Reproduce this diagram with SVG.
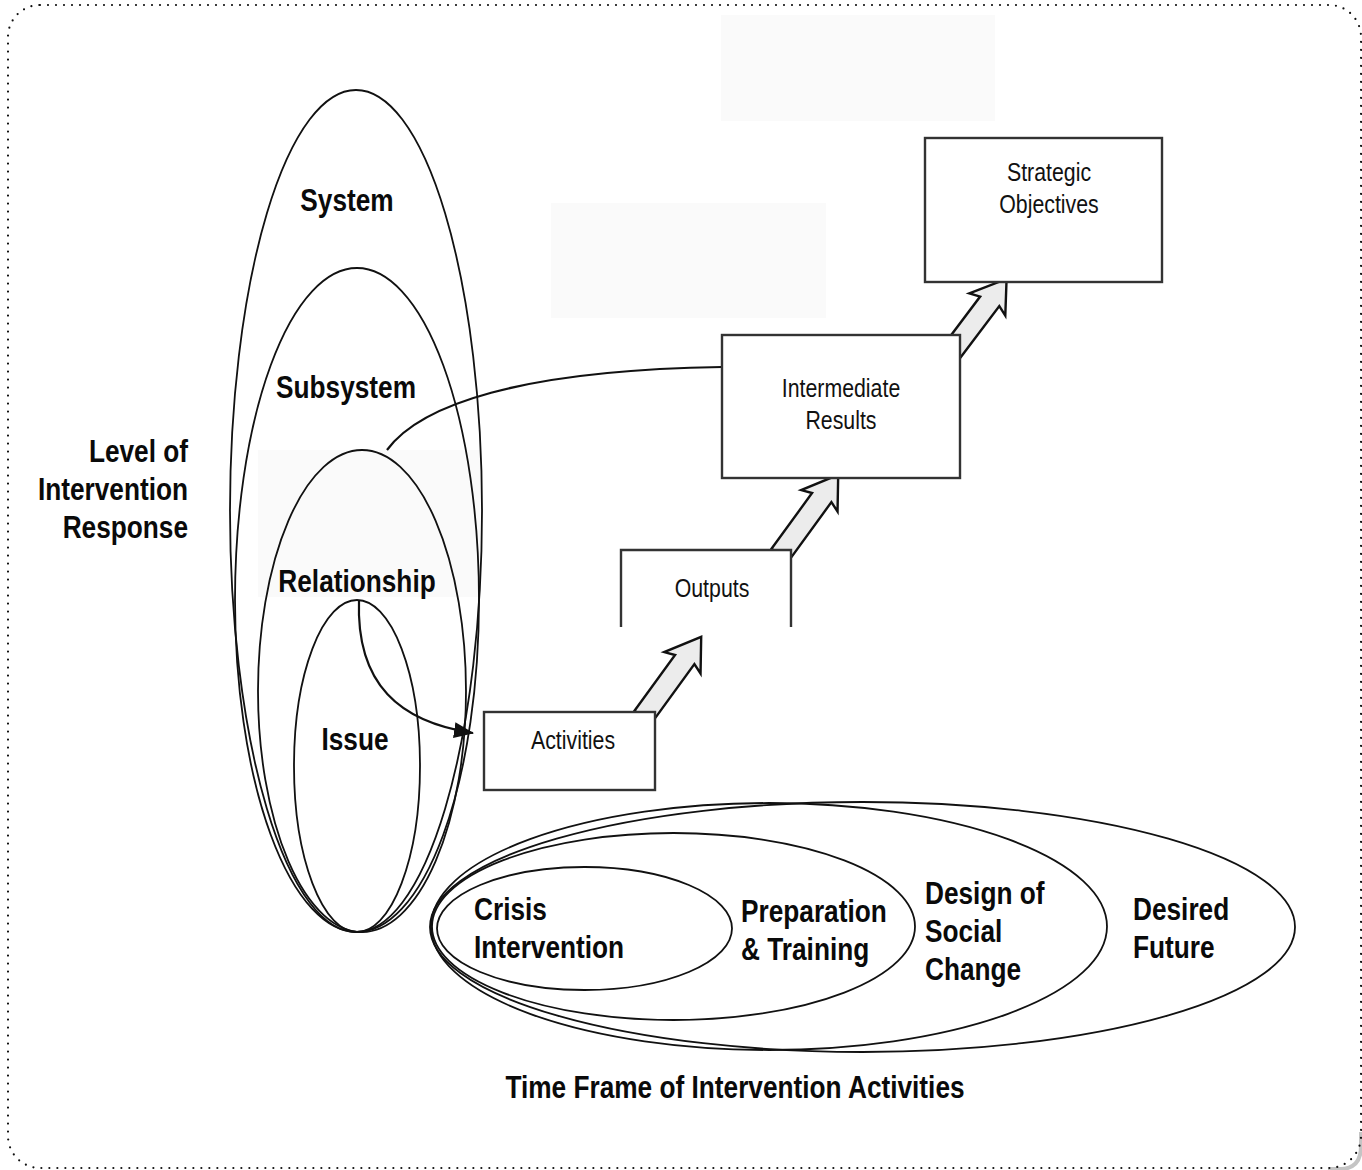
<svg xmlns="http://www.w3.org/2000/svg" width="1362" height="1170" viewBox="0 0 1362 1170">
<style>
.b{font-family:"Liberation Sans",Arial,sans-serif;font-weight:bold;font-size:32px;fill:#0a0a0a}
.r{font-family:"Liberation Sans",Arial,sans-serif;font-size:26px;fill:#111}
.el{fill:none;stroke:#111;stroke-width:1.8}
.box{fill:#fff;stroke:#333;stroke-width:2.4}
.blk{fill:#ececec;stroke:#111;stroke-width:2.4;stroke-linejoin:miter}
.con{fill:none;stroke:#111;stroke-width:2.2}
.faint{fill:#fafafa}
</style>
<defs>
<marker id="ah" viewBox="0 0 20 16" refX="19" refY="8" markerWidth="20" markerHeight="16" markerUnits="userSpaceOnUse" orient="auto">
<path d="M0,0 L20,8 L0,16 Z" fill="#111"/>
</marker>
<path id="blockArrow" d="M0,-10.5 L69,-10.5 L65,-21 L99,0 L69,21 L73,10.5 L0,10.5 Z"/>
</defs>
<rect width="1362" height="1170" fill="#fff"/>
<path d="M1328,1169 L1340,1169 Q1361,1169 1361,1146 L1361,1132" fill="none" stroke="#c4c4c4" stroke-width="4"/>
<rect x="8" y="5" width="1353" height="1163" rx="32" ry="32" fill="none" stroke="#111" stroke-width="2.2" stroke-dasharray="0 8" stroke-linecap="round"/>
<rect class="faint" x="721" y="15" width="274" height="106"/>
<rect class="faint" x="551" y="203" width="275" height="115"/>
<rect class="faint" x="258" y="450" width="222" height="147"/>
<g id="level-ellipses">
<ellipse class="el" cx="356" cy="511" rx="126" ry="421"/>
<ellipse class="el" cx="357" cy="600" rx="122" ry="332"/>
<ellipse class="el" cx="362" cy="691" rx="104" ry="241"/>
<ellipse class="el" cx="357" cy="766" rx="63" ry="166"/>
</g>
<g id="time-ellipses">
<ellipse class="el" cx="862.5" cy="927" rx="432.5" ry="125"/>
<ellipse class="el" cx="769" cy="926.5" rx="338" ry="123.5"/>
<ellipse class="el" cx="673.5" cy="926.5" rx="241.5" ry="93.5"/>
<ellipse class="el" cx="584.5" cy="928.5" rx="147.5" ry="61.5"/>
</g>
<g id="connectors">
<path class="con" d="M387,450 C420,405 520,370 722,367"/>
<path class="con" d="M359,600 C356,685 400,722 473,733" marker-end="url(#ah)"/>
<use href="#blockArrow" class="blk" transform="translate(643,717) rotate(-54)"/>
<use href="#blockArrow" class="blk" transform="translate(780,555) rotate(-54)"/>
<use href="#blockArrow" class="blk" transform="translate(947,358) rotate(-53)"/>
</g>
<g id="node-activities">
<rect class="box" x="484" y="712" width="171" height="78"/>
<text class="r" text-anchor="middle" transform="translate(573,749) scale(0.82,1)">Activities</text>
</g>
<g id="node-outputs">
<rect x="621" y="550" width="170" height="77" fill="#fff"/>
<path class="box" d="M621,627 L621,550 L791,550 L791,627" fill="none"/>
<text class="r" text-anchor="middle" transform="translate(712,597) scale(0.82,1)">Outputs</text>
</g>
<g id="node-intermediate">
<rect class="box" x="722" y="335" width="238" height="143"/>
<text class="r" text-anchor="middle" transform="translate(841,397) scale(0.82,1)"><tspan x="0">Intermediate</tspan><tspan x="0" dy="32">Results</tspan></text>
</g>
<g id="node-strategic">
<rect class="box" x="925" y="138" width="237" height="144"/>
<text class="r" text-anchor="middle" transform="translate(1049,181) scale(0.82,1)"><tspan x="0">Strategic</tspan><tspan x="0" dy="32">Objectives</tspan></text>
</g>
<g id="labels-level">
<text class="b" text-anchor="middle" transform="translate(347,211) scale(0.82,1)">System</text>
<text class="b" text-anchor="middle" transform="translate(346,398) scale(0.82,1)">Subsystem</text>
<text class="b" text-anchor="middle" transform="translate(357,592) scale(0.82,1)">Relationship</text>
<text class="b" text-anchor="middle" transform="translate(355,750) scale(0.82,1)">Issue</text>
</g>
<g id="label-level-axis">
<text class="b" text-anchor="end" transform="translate(188,462) scale(0.82,1)"><tspan x="0">Level of</tspan><tspan x="0" dy="38">Intervention</tspan><tspan x="0" dy="38">Response</tspan></text>
</g>
<g id="labels-time">
<text class="b" transform="translate(474,920) scale(0.82,1)"><tspan x="0">Crisis</tspan><tspan x="0" dy="38">Intervention</tspan></text>
<text class="b" transform="translate(741,922) scale(0.82,1)"><tspan x="0">Preparation</tspan><tspan x="0" dy="38">&amp; Training</tspan></text>
<text class="b" transform="translate(925,904) scale(0.82,1)"><tspan x="0">Design of</tspan><tspan x="0" dy="38">Social</tspan><tspan x="0" dy="38">Change</tspan></text>
<text class="b" transform="translate(1133,920) scale(0.82,1)"><tspan x="0">Desired</tspan><tspan x="0" dy="38">Future</tspan></text>
</g>
<g id="label-time-axis">
<text class="b" text-anchor="middle" transform="translate(735,1098) scale(0.82,1)">Time Frame of Intervention Activities</text>
</g>
</svg>
